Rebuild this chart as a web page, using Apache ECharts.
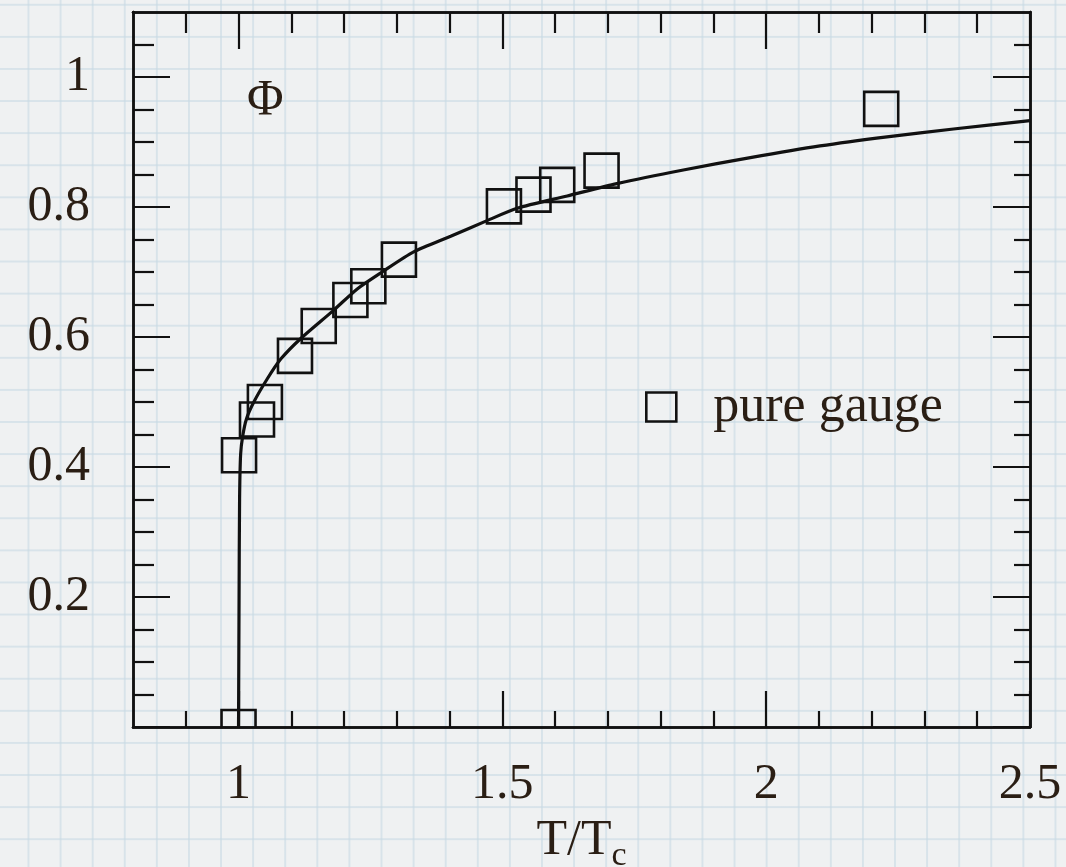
<!DOCTYPE html>
<html>
<head>
<meta charset="utf-8">
<title>Polyakov loop vs T/Tc</title>
<script src="https://cdn.jsdelivr.net/npm/echarts@6/dist/echarts.min.js"></script>
<style>
  html, body { margin: 0; padding: 0; overflow: hidden; }
  body {
    width: 1066px; height: 867px;
    background-color: #eff1f2;
    background-image:
      linear-gradient(to right, rgba(200, 218, 228, 0.6) 2px, transparent 2px),
      linear-gradient(to bottom, rgba(200, 218, 228, 0.6) 2px, transparent 2px);
    background-size: 32.1px 32.1px;
    background-position: 27.5px 3.8px;
  }
  #chart { width: 1066px; height: 867px; }
</style>
</head>
<body>
<div id="chart"></div>
<script>
// Order parameter Phi against reduced temperature T/Tc
const seriesName = 'pure gauge';

// Lattice points (T/Tc, Phi)
const pointT   = [1.000, 1.001, 1.035, 1.050, 1.107, 1.152, 1.212, 1.246, 1.304, 1.503, 1.559, 1.604, 1.688, 2.218];
const pointPhi = [0.000, 0.418, 0.473, 0.500, 0.571, 0.617, 0.657, 0.678, 0.719, 0.801, 0.819, 0.834, 0.856, 0.951];

// Fitted curve through the points
const curveT   = [1.000, 1.001, 1.002, 1.004, 1.008, 1.015, 1.029, 1.054, 1.080, 1.117, 1.180, 1.225, 1.272, 1.332, 1.402, 1.471, 1.528, 1.623, 1.717, 1.843, 1.970, 2.102, 2.229, 2.355, 2.500];
const curvePhi = [0.000, 0.196, 0.350, 0.420, 0.448, 0.474, 0.500, 0.535, 0.566, 0.597, 0.641, 0.674, 0.700, 0.731, 0.755, 0.779, 0.798, 0.817, 0.836, 0.857, 0.876, 0.894, 0.908, 0.920, 0.933];

// Axis ranges and ticks
const xRange = [0.8, 2.5];
const yRange = [0, 1.1];
const xMajorTicks = [1, 1.5, 2, 2.5];
const xMinorTicks = [0.9, 1.1, 1.2, 1.3, 1.4, 1.6, 1.7, 1.8, 1.9, 2.1, 2.2, 2.3, 2.4];
const yMajorTicks = [0, 0.2, 0.4, 0.6, 0.8, 1];
const yLabelTicks = [0.2, 0.4, 0.6, 0.8, 1];
const yMinorTicks = [0.05, 0.1, 0.15, 0.25, 0.3, 0.35, 0.45, 0.5, 0.55, 0.65, 0.7, 0.75, 0.85, 0.9, 0.95, 1.05];

const ink = '#111111';
const textInk = '#2a1e14';
const serif = '"Liberation Serif", "DejaVu Serif", serif';

const chart = echarts.init(document.getElementById('chart'), null, { renderer: 'canvas' });

function frameAxis(dim, position, ticks, tickLen, opts) {
  const range = dim === 'x' ? xRange : yRange;
  return Object.assign({
    type: 'value',
    position: position,
    min: range[0],
    max: range[1],
    splitLine: { show: false },
    axisLine: { show: true, onZero: false, lineStyle: { color: ink, width: 2.5 } },
    axisTick: { show: true, inside: true, length: tickLen, customValues: ticks, lineStyle: { color: ink, width: 2.2 } },
    axisLabel: { show: false },
    minorTick: { show: false }
  }, opts || {});
}

const bottomLabel = {
  show: true,
  customValues: xMajorTicks,
  margin: 33,
  color: textInk,
  fontFamily: serif,
  fontSize: 50,
  formatter: v => String(v)
};
const leftLabel = {
  show: true,
  customValues: yLabelTicks,
  margin: 43,
  color: textInk,
  fontFamily: serif,
  fontSize: 50,
  formatter: v => String(v)
};

const option = {
  animation: false,
  backgroundColor: 'transparent',
  grid: { left: 133, right: 36, top: 12, bottom: 140, containLabel: false, outerBoundsMode: 'none' },
  xAxis: [
    frameAxis('x', 'bottom', xMajorTicks, 36, {
      axisLabel: bottomLabel,
      name: 'T/T{sub|c}',
      nameLocation: 'middle',
      nameGap: 82,
      nameTextStyle: {
        color: textInk, fontFamily: serif, fontSize: 50,
        rich: { sub: { color: textInk, fontFamily: serif, fontSize: 34, padding: [30, 0, 0, 0] } }
      }
    }),
    frameAxis('x', 'bottom', xMinorTicks, 16),
    frameAxis('x', 'top', xMajorTicks, 37),
    frameAxis('x', 'top', xMinorTicks, 21)
  ],
  yAxis: [
    frameAxis('y', 'left', yMajorTicks, 37, { axisLabel: leftLabel }),
    frameAxis('y', 'left', yMinorTicks, 21),
    frameAxis('y', 'right', yMajorTicks, 37),
    frameAxis('y', 'right', yMinorTicks, 16)
  ],
  legend: {
    left: 645,
    top: 381,
    padding: 0,
    itemWidth: 30,
    itemHeight: 29,
    data: [{
      name: seriesName,
      icon: 'rect',
      itemStyle: { color: 'rgba(0,0,0,0)', borderColor: ink, borderWidth: 2.6 }
    }],
    textStyle: { color: textInk, fontFamily: serif, fontSize: 52, padding: [0, 0, 0, 32] }
  },
  graphic: [{
    type: 'text',
    left: 247,
    top: 76,
    style: { text: 'Φ', fill: textInk, font: '50px ' + serif }
  }],
  series: [
    {
      name: 'fit',
      type: 'line',
      xAxisIndex: 0,
      yAxisIndex: 0,
      data: curveT.map((t, i) => [t, curvePhi[i]]),
      showSymbol: false,
      smooth: 0.25,
      lineStyle: { color: ink, width: 3.2 },
      clip: true,
      z: 3
    },
    {
      name: seriesName,
      type: 'custom',
      xAxisIndex: 0,
      yAxisIndex: 0,
      clip: true,
      data: pointT.map((t, i) => [t, pointPhi[i]]),
      renderItem: function (params, api) {
        const p = api.coord([api.value(0), api.value(1)]);
        const s = 34;
        return {
          type: 'rect',
          shape: { x: p[0] - s / 2, y: p[1] - s / 2, width: s, height: s },
          style: { fill: 'none', stroke: ink, lineWidth: 2.6 }
        };
      },
      z: 4
    }
  ]
};

chart.setOption(option);
</script>
</body>
</html>
